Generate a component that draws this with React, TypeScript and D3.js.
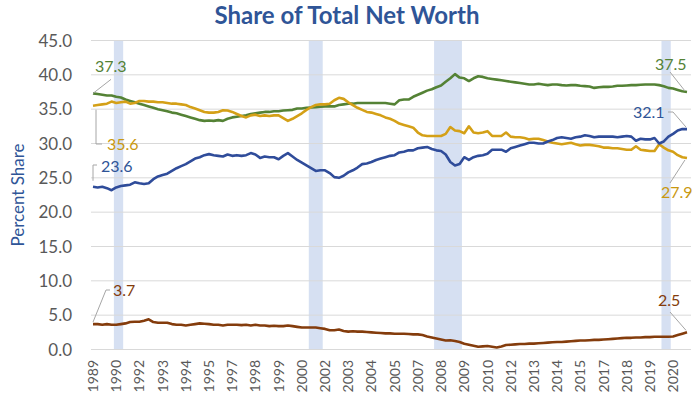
import React from "react"
import * as d3 from "d3"

// quarterly, 1989Q3 .. 2021Q3
const startYear = 1989
const startQuarter = 3
const quarters: string[] = []
for (let i = 0; i < 129; i++) {
  const q = startQuarter - 1 + i
  quarters.push(`${startYear + Math.floor(q / 4)}Q${(q % 4) + 1}`)
}

const tickLabels = ["1989", "1990", "1992", "1993", "1994", "1995", "1997", "1998", "1999", "2000", "2002", "2003", "2004", "2005", "2007", "2008", "2009", "2010", "2012", "2013", "2014", "2015", "2017", "2018", "2019", "2020"]

const top1 = [
  23.7, 23.6, 23.7, 23.5, 23.2, 23.6, 23.8, 23.9, 24.0, 24.35, 24.2, 24.1, 24.2, 24.8, 25.2, 25.4, 25.6, 26.0, 26.4, 26.7,
  27.0, 27.4, 27.8, 28.0, 28.3, 28.45, 28.3, 28.2, 28.1, 28.4, 28.2, 28.3, 28.2, 28.3, 28.6, 28.4, 27.9, 28.1, 28.0, 28.0,
  27.7, 28.2, 28.6, 28.1, 27.6, 27.2, 26.8, 26.4, 26.0, 26.1, 26.1, 25.7, 25.1, 25.0, 25.3, 25.8, 26.1, 26.5, 27.0, 27.1,
  27.3, 27.6, 27.8, 28.0, 28.2, 28.3, 28.7, 28.8, 29.0, 29.0, 29.3, 29.4, 29.5, 29.2, 29.0, 28.9, 28.4, 27.3, 26.8, 27.0,
  28.0, 27.6, 28.0, 28.2, 28.3, 28.5, 29.1, 29.1, 29.1, 28.8, 29.3, 29.5, 29.7, 29.9, 30.1, 30.1, 30.0, 30.0, 30.3, 30.5,
  30.8, 30.9, 30.8, 30.7, 30.9, 31.0, 31.2, 31.1, 30.9, 31.0, 31.0, 31.0, 31.0, 30.9, 31.0, 31.1, 31.0, 30.4, 30.7, 30.6,
  30.6, 30.8, 30.0, 30.3, 31.0, 31.4, 31.9, 32.1, 32.1
]

const next9 = [
  37.3, 37.2, 37.1, 37.0, 37.0, 36.8, 36.7, 36.4, 36.2, 36.0, 35.8, 35.6, 35.4, 35.2, 35.0, 34.85, 34.7, 34.5, 34.4, 34.2,
  34.0, 33.8, 33.6, 33.4, 33.3, 33.35, 33.3, 33.4, 33.3, 33.6, 33.8, 33.9, 34.0, 34.1, 34.3, 34.4, 34.5, 34.6, 34.6, 34.7,
  34.7, 34.8, 34.85, 34.9, 35.1, 35.1, 35.2, 35.25, 35.3, 35.35, 35.4, 35.4, 35.4, 35.6, 35.7, 35.8, 35.8, 35.9, 35.9, 35.9,
  35.9, 35.9, 35.9, 35.9, 35.8, 35.7, 36.3, 36.4, 36.4, 36.8, 37.1, 37.4, 37.7, 37.9, 38.2, 38.45, 39.0, 39.5, 40.1, 39.6,
  39.5, 39.1, 39.5, 39.8, 39.7, 39.5, 39.4, 39.3, 39.2, 39.1, 39.0, 38.9, 38.8, 38.7, 38.6, 38.6, 38.7, 38.6, 38.5, 38.6,
  38.6, 38.5, 38.45, 38.5, 38.5, 38.4, 38.35, 38.3, 38.1, 38.2, 38.25, 38.25, 38.3, 38.4, 38.4, 38.45, 38.5, 38.5, 38.55, 38.6,
  38.6, 38.6, 38.5, 38.35, 38.1, 38.0, 37.8, 37.6, 37.5
]

const next40 = [
  35.5, 35.6, 35.7, 35.8, 36.1, 35.9, 36.0, 36.1, 35.8, 35.9, 36.2, 36.2, 36.1, 36.1, 36.0, 36.0, 35.9, 35.8, 35.8, 35.7,
  35.6, 35.3, 35.1, 34.85, 34.6, 34.5, 34.5, 34.6, 34.85, 34.8, 34.6, 34.3, 34.0, 33.8, 34.1, 34.2, 34.0, 34.1, 34.0, 34.1,
  34.1, 33.7, 33.3, 33.6, 34.0, 34.4, 34.9, 35.3, 35.6, 35.7, 35.7, 35.8, 36.3, 36.65, 36.5, 36.0, 35.6, 35.2, 34.9, 34.6,
  34.5, 34.3, 34.1, 33.8, 33.6, 33.3, 32.9, 32.7, 32.5, 32.3, 31.6, 31.2, 31.1, 31.1, 31.1, 31.1, 31.4, 32.4, 31.9, 31.8,
  31.5, 32.5, 31.6, 31.5, 31.6, 31.8, 31.1, 31.1, 31.1, 31.6, 31.0, 30.9, 30.9, 30.8, 30.6, 30.7, 30.7, 30.5, 30.3, 30.1,
  30.0, 29.9, 30.0, 30.1, 29.9, 29.7, 29.8, 29.8, 29.7, 29.6, 29.4, 29.4, 29.3, 29.3, 29.2, 29.1, 29.1, 29.6, 29.1, 29.0,
  28.9, 28.9, 29.9, 29.4, 29.0, 28.8, 28.3, 28.0, 27.9
]

const bottom50 = [
  3.7, 3.7, 3.6, 3.7, 3.6, 3.6, 3.7, 3.8, 4.0, 4.05, 4.05, 4.2, 4.4, 4.0, 3.9, 3.9, 3.9, 3.7, 3.6, 3.6,
  3.5, 3.6, 3.7, 3.8, 3.75, 3.7, 3.6, 3.6, 3.5, 3.6, 3.6, 3.6, 3.55, 3.6, 3.5, 3.6, 3.5, 3.5, 3.4, 3.45,
  3.4, 3.4, 3.5, 3.4, 3.3, 3.2, 3.2, 3.2, 3.2, 3.1, 3.0, 2.8, 2.8, 2.9, 2.7, 2.6, 2.65, 2.6, 2.6, 2.55,
  2.5, 2.45, 2.4, 2.35, 2.35, 2.3, 2.3, 2.3, 2.25, 2.2, 2.2, 2.1, 1.9, 1.75, 1.6, 1.45, 1.3, 1.35, 1.25, 1.1,
  0.85, 0.7, 0.55, 0.4, 0.45, 0.5, 0.4, 0.3, 0.45, 0.65, 0.7, 0.75, 0.8, 0.8, 0.85, 0.85, 0.9, 0.95, 1.0, 1.05,
  1.1, 1.1, 1.15, 1.2, 1.25, 1.3, 1.3, 1.35, 1.4, 1.4, 1.45, 1.5, 1.55, 1.6, 1.65, 1.7, 1.7, 1.75, 1.75, 1.8,
  1.8, 1.85, 1.85, 1.85, 1.85, 1.9, 2.1, 2.3, 2.5
]

// shaded recession quarters (first, last)
const recessions = [
  ["1990Q4", "1991Q1"],
  ["2001Q2", "2001Q4"],
  ["2008Q1", "2009Q2"],
  ["2020Q2", "2020Q3"]
]

const yTicks = [0, 5, 10, 15, 20, 25, 30, 35, 40, 45]

const FONT = "Lato, 'Open Sans', sans-serif"

const series = [
  { name: "90-99", values: next9, color: "#548235" },
  { name: "50-90", values: next40, color: "#D4A017" },
  { name: "Top 1%", values: top1, color: "#2F4C9A" },
  { name: "Bottom 50%", values: bottom50, color: "#843C0C" }
]

export default function App() {
  const width = 700
  const height = 394

  const x = d3.scaleLinear().domain([0, quarters.length - 1]).range([93, 687])
  const y = d3.scaleLinear().domain([0, 45]).range([349.5, 40.5])
  const step = x(1) - x(0)

  const line = d3
    .line<number>()
    .x((d, i) => x(i))
    .y(d => y(d))

  const last = quarters.length - 1
  const px = (i: number) => x(i)

  // value labels with leader lines (start / end of each series)
  const labels = [
    { text: "37.3", color: "#548235", tx: px(0) + 2, ty: 72, path: `M${px(0)},${y(next9[0])} L${px(0) + 18},${y(next9[0]) - 14}` },
    { text: "35.6", color: "#C9980F", tx: px(0) + 14, ty: 150, path: `M${px(0) + 3},${y(next40[0]) + 4} V144 H${px(0) + 9}` },
    { text: "23.6", color: "#2F5597", tx: px(0) + 8, ty: 172, path: `M${px(0)},${y(top1[0]) - 6} V165 H${px(0) + 4}` },
    { text: "3.7", color: "#843C0C", tx: px(0) + 20, ty: 296, path: `M${px(0)},${y(bottom50[0]) - 2} L${px(0) + 13},290 H${px(0) + 17}` },
    { text: "37.5", color: "#548235", tx: px(last) - 32, ty: 70, path: `M${px(last) - 17},72 L${px(last) - 2},${y(next9[last]) - 1}` },
    { text: "32.1", color: "#2F5597", tx: px(last) - 54, ty: 118, path: `M${px(last) - 19},112 H${px(last) - 14} L${px(last) - 1},${y(top1[last]) - 2}` },
    { text: "27.9", color: "#C9980F", tx: px(last) - 26, ty: 198, path: `M${px(last) - 2},${y(next40[last]) + 2} L${px(last) - 17},183` },
    { text: "2.5", color: "#843C0C", tx: px(last) - 29, ty: 306, path: `M${px(last) - 17},312 L${px(last) - 1},${y(bottom50[last]) - 2}` }
  ]

  return (
    <svg
      width={width}
      height={height}
      style={{ position: "fixed", left: 0, top: 0, background: "#fff" }}
      fontFamily={FONT}
    >
      <rect width={width} height={height} fill="#fff" />

      {recessions.map(([a, b]) => {
        const i0 = quarters.indexOf(a)
        const i1 = quarters.indexOf(b)
        return (
          <rect
            key={a}
            x={x(i0) - step / 2}
            y={y(45)}
            width={x(i1) - x(i0) + step}
            height={y(0) - y(45)}
            fill="#D6E0F2"
          />
        )
      })}

      {yTicks.map(t => (
        <g key={t}>
          <line x1={91} x2={691} y1={y(t)} y2={y(t)} stroke="#D9D9D9" strokeWidth={1} />
          <text x={72} y={y(t)} dy="0.36em" textAnchor="end" fontSize={17} fill="#595959">
            {d3.format(".1f")(t)}
          </text>
        </g>
      ))}

      {tickLabels.map((lab, k) => {
        const i = k * 5
        return (
          <text
            key={lab}
            transform={`translate(${x(i)},360) rotate(-90)`}
            dy="0.36em"
            textAnchor="end"
            fontSize={14}
            fill="#595959"
          >
            {lab}
          </text>
        )
      })}

      {series.map(s => (
        <path
          key={s.name}
          d={line(s.values) || ""}
          fill="none"
          stroke={s.color}
          strokeWidth={2.6}
          strokeLinejoin="round"
        />
      ))}

      {labels.map(l => (
        <g key={l.text + l.tx}>
          <path d={l.path} fill="none" stroke="#A6A6A6" strokeWidth={1} />
          <text x={l.tx} y={l.ty} fontSize={16} fill={l.color}>
            {l.text}
          </text>
        </g>
      ))}

      <text
        transform="translate(24,195) rotate(-90)"
        textAnchor="middle"
        fontSize={17}
        fill="#2F5597"
      >
        Percent Share
      </text>

      <text x={347} y={24} textAnchor="middle" fontSize={24} fontWeight="bold" fill="#2F5597">
        Share of Total Net Worth
      </text>
    </svg>
  )
}
